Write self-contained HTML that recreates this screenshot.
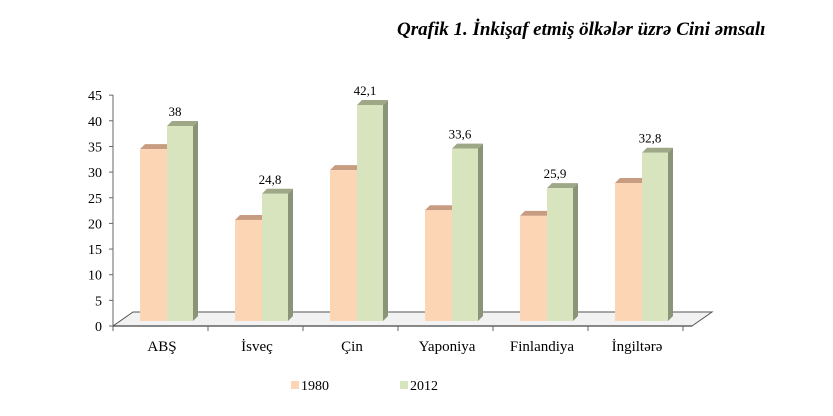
<!DOCTYPE html>
<html><head><meta charset="utf-8"><style>
body{margin:0;background:#fff;width:833px;height:416px;overflow:hidden;font-family:"Liberation Serif",serif}
#title{position:absolute;left:397px;top:19px;font-size:19px;font-weight:bold;font-style:italic;color:#000;white-space:nowrap}
</style></head><body>
<div id="title">Qrafik 1. İnkişaf etmiş ölkələr üzrə Cini əmsalı</div>
<svg id="chart" width="833" height="416" style="position:absolute;left:0;top:0"></svg>
<script>
const categories=["ABŞ","İsveç","Çin","Yaponiya","Finlandiya","İngiltərə"];
const values1980=[33.5,19.7,29.4,21.6,20.5,26.9];
const values2012=[38,24.8,42.1,33.6,25.9,32.8];
const labels2012=["38","24,8","42,1","33,6","25,9","32,8"];
const yTicks=[0,5,10,15,20,25,30,35,40,45];
const NS="http://www.w3.org/2000/svg";
const svg=document.getElementById('chart');
function mk(t,a,p){const e=document.createElementNS(NS,t);for(const k in a)e.setAttribute(k,a[k]);(p||svg).appendChild(e);return e;}
const axisY=v=>326-v*5.13;
const barY=v=>321-v*5.13;
const groupX=i=>140+i*95;
const floor=mk('polygon',{points:"113,326 692,326 712,312 133,312",fill:"#f2f2f2",stroke:"#555","stroke-width":1});

mk('line',{x1:113,y1:326,x2:692,y2:326,stroke:"#444","stroke-width":1.2});
const ya=mk('line',{x1:113,y1:95,x2:113,y2:326,stroke:"#666","stroke-width":1});

yTicks.forEach(v=>{
 mk('line',{x1:109,y1:axisY(v),x2:113,y2:axisY(v),stroke:"#666"});
 const t=mk('text',{x:102,y:axisY(v)+5,"text-anchor":"end","font-size":14,"font-family":"Liberation Serif, serif"});
 t.textContent=v;
 
});
for(let i=0;i<=categories.length;i++){mk('line',{x1:113+i*95,y1:326,x2:113+i*95,y2:331,stroke:"#666"});}
function bar(x,w,v,front,top,side,name){
 const g=mk('g',{});
 
 const y=barY(v),b=barY(0),d=5;
 mk('polygon',{points:`${x+w},${y} ${x+w+d},${y-d} ${x+w+d},${b-d} ${x+w},${b}`,fill:side},g);
 mk('polygon',{points:`${x},${y} ${x+d},${y-d} ${x+w+d},${y-d} ${x+w},${y}`,fill:top},g);
 mk('rect',{x:x,y:y,width:w,height:b-y,fill:front},g);
}
categories.forEach((c,i)=>{
 const x=groupX(i);
 bar(x,27,values1980[i],"#fcd5b5","#c89c80","#d9b090",'bar-1980-'+i);
 bar(x+27,26,values2012[i],"#d7e4bd","#9ea886","#8a9478",'bar-2012-'+i);
 const l=mk('text',{x:x+35,y:barY(values2012[i])-10,"text-anchor":"middle","font-size":13,"font-family":"Liberation Serif, serif"});
 l.textContent=labels2012[i];
 
 const cl=mk('text',{x:x+22,y:351,"text-anchor":"middle","font-size":15,"font-family":"Liberation Serif, serif"});
 cl.textContent=c;
 
});
const lg=mk('g',{});

mk('rect',{x:291,y:381,width:8,height:8,fill:"#fcd5b5"},lg);
const t1=mk('text',{x:301,y:390,"font-size":14,"font-family":"Liberation Serif, serif"},lg);t1.textContent="1980";
mk('rect',{x:400,y:381,width:8,height:8,fill:"#d7e4bd"},lg);
const t2=mk('text',{x:410,y:390,"font-size":14,"font-family":"Liberation Serif, serif"},lg);t2.textContent="2012";
</script>
</body></html>
